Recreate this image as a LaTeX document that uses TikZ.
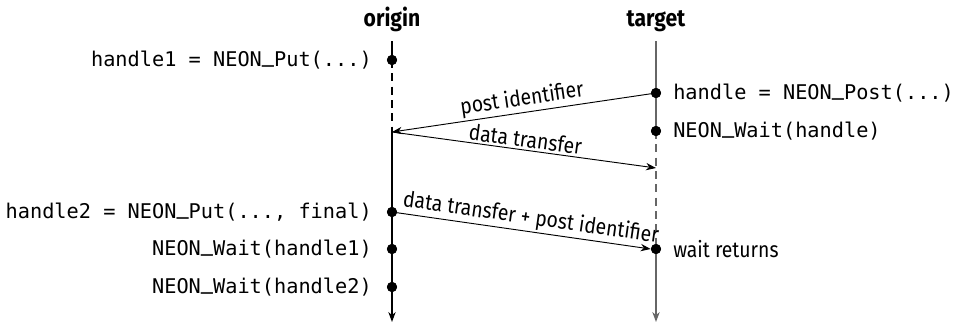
\documentclass[tikz,border=0pt]{standalone}
\usepackage{fontspec}
\setmainfont{Fira Sans}[FakeStretch=0.88]
\newfontfamily\codefont{DejaVu Sans Mono}
\usetikzlibrary{arrows.meta}
% underscore set on the baseline, struck twice so it stays legible
\newcommand{\us}{\raisebox{0.2em}{\makebox[0pt][l]{\raisebox{0.05em}{\char"5F}}\char"5F}}

\begin{document}
\begin{tikzpicture}[x=0.75pt,y=-0.75pt,
  event/.style={circle,fill=black,inner sep=0pt,minimum size=7.6pt},
  lifeline/.style={line width=1pt},
  waiting/.style={line width=1pt,dash pattern=on 6pt off 4pt},
  msg/.style={line width=0.7pt,-{Stealth[length=7.5pt,width=5.5pt]}},
  endarrow/.style={-{Stealth[length=7.5pt,width=5.5pt]}},
  code/.style={font=\codefont\fontsize{15.2}{18}\selectfont,inner sep=0pt},
  title/.style={font=\bfseries\fontsize{18}{21}\selectfont,inner sep=0pt},
  lbl/.style={font=\fontsize{16.5}{20}\selectfont,inner sep=1.5pt,sloped},
]
\useasboundingbox (0,0) rectangle (961,325);

% process headers
\node[title,anchor=base] (origin) at (392,26) {origin};
\node[title,anchor=base] (target) at (656,26) {target};

% origin timeline
\coordinate (otop) at (392,41);
\node[event] (o1) at (392,60) {};
\coordinate (oin) at (392,132);
\node[event] (o2) at (392,212) {};
\node[event] (o3) at (392,249) {};
\node[event] (o4) at (392,287) {};
\coordinate (obot) at (392,322);

% target timeline
\coordinate (ttop) at (656,41);
\node[event] (t1) at (656,93) {};
\node[event] (t2) at (656,131) {};
\coordinate (tin) at (656,168);
\node[event] (t3) at (656,249) {};
\coordinate (tbot) at (656,322);

\begin{scope}[black]
  \draw[lifeline] (otop) -- (o1.center);
  \draw[waiting] (o1.center) -- (oin);
  \draw[lifeline,endarrow] (oin) -- (obot);
\end{scope}
\begin{scope}[black!60]
  \draw[lifeline] (ttop) -- (t2.center);
  \draw[waiting] (t2.center) -- (t3.center);
  \draw[lifeline,endarrow] (t3.center) -- (tbot);
\end{scope}
% redraw dots on top of the lines
\foreach \n in {o1,o2,o3,o4,t1,t2,t3} \fill (\n) circle (3.8pt);

% messages
\draw[msg] (t1.center) -- node[lbl,above] {post identifier} (oin);
\draw[msg] (oin) -- node[lbl,above] {data transfer} (tin);
\draw[msg] (o2.center) -- node[lbl,above,pos=0.53] {data transfer + post identifier} (t3.west);

% calls on the origin side
\node[code,anchor=east] (c1) at (372,60) {handle1 = NEON\us Put(...)};
\node[code,anchor=east] (c2) at (372,212) {handle2 = NEON\us Put(..., final)};
\node[code,anchor=east] (c3) at (372,249) {NEON\us Wait(handle1)};
\node[code,anchor=east] (c4) at (372,287) {NEON\us Wait(handle2)};

% calls on the target side
\node[code,anchor=west] (c5) at (673,93) {handle = NEON\us Post(...)};
\node[code,anchor=west] (c6) at (673,131) {NEON\us Wait(handle)};
\node[font=\fontsize{16.5}{20}\selectfont,inner sep=0pt,anchor=west] (c7) at (673,249) {wait returns};
\end{tikzpicture}
\end{document}
